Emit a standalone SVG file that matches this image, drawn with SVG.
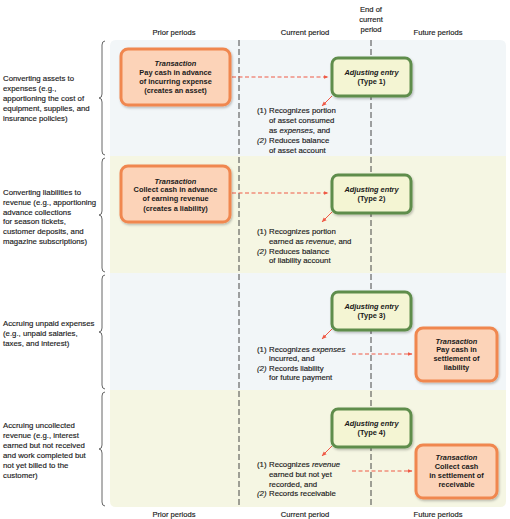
<svg xmlns="http://www.w3.org/2000/svg" width="510" height="519" viewBox="0 0 510 519">
<defs>
<style>
text{font-family:"Liberation Sans",Arial,sans-serif;font-size:7.8px;fill:#1a1a1a;stroke:#1a1a1a;stroke-width:0.15}
.b{font-weight:bold;font-size:7.4px;stroke-width:0}
.i{font-style:italic}
.c{text-anchor:middle}
.hdr{font-size:7.6px}
.tx{fill:#fcd3b8;stroke:#f0874f;stroke-width:3}
.adj{fill:#f4f5d3;stroke:#5e8d4b;stroke-width:3}
.dash{stroke:#333;stroke-width:0.9;stroke-dasharray:6,3;fill:none}
.arr{stroke:#ef5a46;stroke-width:1;fill:none}
.arrd{stroke:#ef5a46;stroke-width:1;stroke-dasharray:4,2.5;fill:none}
.brace{stroke:#555;stroke-width:0.9;fill:none}
</style>
<marker id="ah" viewBox="0 0 10 10" refX="9" refY="5" markerWidth="5" markerHeight="5" orient="auto">
<path d="M0,1 L10,5 L0,9 z" fill="#ef5a46"/>
</marker>
<filter id="sh" x="-10%" y="-10%" width="125%" height="130%">
<feDropShadow dx="1" dy="1.5" stdDeviation="1" flood-color="#000" flood-opacity="0.25"/>
</filter>
</defs>

<!-- panels -->
<g id="panels">
<path d="M110,46 Q110,40 116,40 L500,40 Q506,40 506,46 L506,156 L110,156 Z" fill="#f2f6f8"/>
<rect x="110" y="156" width="396" height="117" fill="#f5f6e3"/>
<rect x="110" y="273" width="396" height="117" fill="#f2f6f8"/>
<path d="M110,390 L506,390 L506,501 Q506,507 500,507 L116,507 Q110,507 110,501 Z" fill="#f5f6e3"/>
</g>

<!-- headers -->
<g id="headers">
<text class="c hdr" x="371" y="12">End of</text>
<text class="c hdr" x="371" y="22">current</text>
<text class="c hdr" x="371" y="32">period</text>
<text class="c hdr" x="174" y="35">Prior periods</text>
<text class="c hdr" x="305" y="35">Current period</text>
<text class="c hdr" x="438" y="35">Future periods</text>
<text class="c hdr" x="174" y="517">Prior periods</text>
<text class="c hdr" x="305" y="517">Current period</text>
<text class="c hdr" x="438" y="517">Future periods</text>
</g>

<!-- timeline dividers -->
<g id="dividers">
<line class="dash" x1="239" y1="40" x2="239" y2="507"/>
<line class="dash" x1="371" y1="40" x2="371" y2="507"/>
</g>

<!-- braces -->
<g id="braces">
<path class="brace" d="M105,41 Q102,41 102,45 L102,94 Q102,98 99,98 Q102,98 102,102 L102,151 Q102,155 105,155"/>
<path class="brace" d="M105,158 Q102,158 102,162 L102,211 Q102,215 99,215 Q102,215 102,219 L102,268 Q102,272 105,272"/>
<path class="brace" d="M105,275 Q102,275 102,279 L102,328 Q102,332 99,332 Q102,332 102,336 L102,385 Q102,389 105,389"/>
<path class="brace" d="M105,392 Q102,392 102,396 L102,445 Q102,449 99,449 Q102,449 102,453 L102,502 Q102,506 105,506"/>
</g>

<!-- left labels -->
<g id="labels">
<text x="3" y="81">Converting assets to</text>
<text x="3" y="91">expenses (e.g.,</text>
<text x="3" y="101">apportioning the cost of</text>
<text x="3" y="111">equipment, supplies, and</text>
<text x="3" y="121">insurance policies)</text>

<text x="3" y="195">Converting liabilities to</text>
<text x="3" y="205">revenue (e.g., apportioning</text>
<text x="3" y="215">advance collections</text>
<text x="3" y="224">for season tickets,</text>
<text x="3" y="234">customer deposits, and</text>
<text x="3" y="244">magazine subscriptions)</text>

<text x="3" y="326">Accruing unpaid expenses</text>
<text x="3" y="336">(e.g., unpaid salaries,</text>
<text x="3" y="346">taxes, and interest)</text>

<text x="3" y="428">Accruing uncollected</text>
<text x="3" y="438">revenue (e.g., interest</text>
<text x="3" y="448">earned but not received</text>
<text x="3" y="458">and work completed but</text>
<text x="3" y="468">not yet billed to the</text>
<text x="3" y="478">customer)</text>
</g>

<!-- connectors -->
<g id="connectors">
<line class="arrd" x1="232" y1="77" x2="328" y2="77" marker-end="url(#ah)"/>
<line class="arr" x1="332" y1="96" x2="322" y2="106" marker-end="url(#ah)"/>
<line class="arrd" x1="232" y1="193" x2="328" y2="193" marker-end="url(#ah)"/>
<line class="arr" x1="332" y1="212" x2="322" y2="222" marker-end="url(#ah)"/>
<line class="arr" x1="332" y1="329" x2="322" y2="339" marker-end="url(#ah)"/>
<line class="arrd" x1="352" y1="354" x2="412" y2="354" marker-end="url(#ah)"/>
<line class="arr" x1="332" y1="446" x2="322" y2="456" marker-end="url(#ah)"/>
<line class="arrd" x1="352" y1="471" x2="412" y2="471" marker-end="url(#ah)"/>
</g>

<!-- Row 1 -->
<g id="tx1">
<rect class="tx" x="121" y="49" width="109" height="56" rx="7" filter="url(#sh)"/>
<text class="c b i" x="175.5" y="65.5">Transaction</text>
<text class="c b" x="175.5" y="75">Pay cash in advance</text>
<text class="c b" x="175.5" y="84">of incurring expense</text>
<text class="c b" x="175.5" y="93">(creates an asset)</text>
</g>
<g id="adj1">
<rect class="adj" x="332" y="58" width="79" height="38" rx="6" filter="url(#sh)"/>
<text class="c b i" x="371.5" y="74.5">Adjusting entry</text>
<text class="c b" x="371.5" y="84">(Type 1)</text>
</g>
<g id="note1">
<text x="257" y="113">(1)</text>
<text x="269" y="113">Recognizes portion</text>
<text x="269" y="123">of asset consumed</text>
<text x="269" y="133">as <tspan class="i">expenses</tspan>, and</text>
<text class="i" x="257" y="143">(2)</text>
<text x="269" y="143">Reduces balance</text>
<text x="269" y="153">of asset account</text>
</g>

<!-- Row 2 -->
<g id="tx2">
<rect class="tx" x="121" y="166" width="109" height="56" rx="7" filter="url(#sh)"/>
<text class="c b i" x="175.5" y="183.5">Transaction</text>
<text class="c b" x="175.5" y="192">Collect cash in advance</text>
<text class="c b" x="175.5" y="201">of earning revenue</text>
<text class="c b" x="175.5" y="210.5">(creates a liability)</text>
</g>
<g id="adj2">
<rect class="adj" x="332" y="175" width="79" height="38" rx="6" filter="url(#sh)"/>
<text class="c b i" x="371.5" y="191.5">Adjusting entry</text>
<text class="c b" x="371.5" y="201">(Type 2)</text>
</g>
<g id="note2">
<text x="257" y="233.5">(1)</text>
<text x="269" y="233.5">Recognizes portion</text>
<text x="269" y="243.5">earned as <tspan class="i">revenue</tspan>, and</text>
<text class="i" x="257" y="253.5">(2)</text>
<text x="269" y="253.5">Reduces balance</text>
<text x="269" y="263">of liability account</text>
</g>

<!-- Row 3 -->
<g id="adj3">
<rect class="adj" x="332" y="292" width="79" height="38" rx="6" filter="url(#sh)"/>
<text class="c b i" x="371.5" y="308.5">Adjusting entry</text>
<text class="c b" x="371.5" y="318">(Type 3)</text>
</g>
<g id="tx3">
<rect class="tx" x="416" y="328" width="81" height="53" rx="7" filter="url(#sh)"/>
<text class="c b i" x="456.5" y="343.5">Transaction</text>
<text class="c b" x="456.5" y="352">Pay cash in</text>
<text class="c b" x="456.5" y="361">settlement of</text>
<text class="c b" x="456.5" y="370">liability</text>
</g>
<g id="note3">
<text x="257" y="351.5">(1)</text>
<text x="269" y="351.5">Recognizes <tspan class="i">expenses</tspan></text>
<text x="269" y="361">incurred, and</text>
<text class="i" x="257" y="370.5">(2)</text>
<text x="269" y="370.5">Records liability</text>
<text x="269" y="380">for future payment</text>
</g>

<!-- Row 4 -->
<g id="adj4">
<rect class="adj" x="332" y="409" width="79" height="38" rx="6" filter="url(#sh)"/>
<text class="c b i" x="371.5" y="425.5">Adjusting entry</text>
<text class="c b" x="371.5" y="435">(Type 4)</text>
</g>
<g id="tx4">
<rect class="tx" x="416" y="445" width="81" height="53" rx="7" filter="url(#sh)"/>
<text class="c b i" x="456.5" y="459.5">Transaction</text>
<text class="c b" x="456.5" y="468.5">Collect cash</text>
<text class="c b" x="456.5" y="477.5">in settlement of</text>
<text class="c b" x="456.5" y="486.5">receivable</text>
</g>
<g id="note4">
<text x="257" y="466.5">(1)</text>
<text x="269" y="466.5">Recognizes <tspan class="i">revenue</tspan></text>
<text x="269" y="476.5">earned but not yet</text>
<text x="269" y="486.5">recorded, and</text>
<text class="i" x="257" y="495.5">(2)</text>
<text x="269" y="495.5">Records receivable</text>
</g>
</svg>
